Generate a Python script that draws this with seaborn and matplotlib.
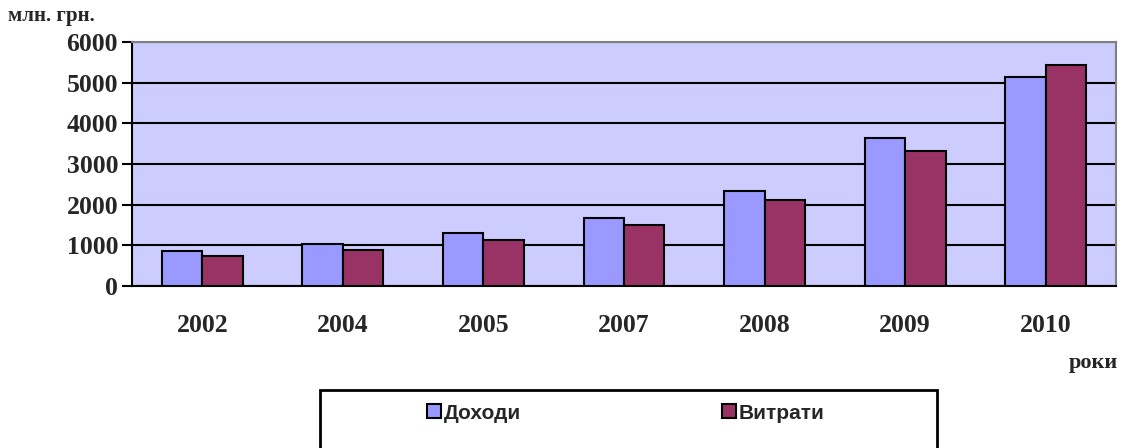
import pandas as pd
import numpy as np
import seaborn as sns
import matplotlib
matplotlib.use('Agg')
import matplotlib.pyplot as plt
from matplotlib.patches import Rectangle

years = ['2002', '2004', '2005', '2007', '2008', '2009', '2010']
income = [870, 1035, 1300, 1670, 2330, 3630, 5150]
expenses = [740, 885, 1120, 1500, 2120, 3320, 5440]
series_names = ['Доходи', 'Витрати']
colors = ['#9999FF', '#993366']

df = pd.DataFrame({
    'year': years * 2,
    'value': income + expenses,
    'series': [series_names[0]] * len(years) + [series_names[1]] * len(years),
})

sns.set_style('white')
serif = ['Liberation Serif', 'DejaVu Serif']
sans = ['Liberation Sans', 'DejaVu Sans']

fig = plt.figure(figsize=(11.3, 4.48), dpi=100)
ax = fig.add_axes([132 / 1130, 1 - 286 / 448, (1116 - 132) / 1130, (286 - 42) / 448])
ax.set_facecolor('#CCCCFF')

sns.barplot(data=df, x='year', y='value', hue='series', palette=colors,
            width=0.575, gap=0, edgecolor='black', linewidth=1.5,
            saturation=1, ax=ax, zorder=3)

ax.set_xlim(-0.5, len(years) - 0.5)
ax.set_ylim(0, 6000)
ax.set_yticks(range(0, 6001, 1000))
ax.yaxis.grid(True, color='black', linewidth=1.5, zorder=0)
ax.set_axisbelow(True)

# ticks between groups, labels in the middle
ax.set_xticks(np.arange(-0.5, len(years)), minor=True)
ax.tick_params(axis='x', which='major', length=0, pad=20)
ax.tick_params(axis='x', which='minor', length=8, width=1.5, color='black', direction='out')
ax.tick_params(axis='y', length=7, width=1.5, color='black', direction='out', pad=3, left=True)
for lab in ax.get_xticklabels() + ax.get_yticklabels():
    lab.set_family(serif)
    lab.set_fontweight('bold')
    lab.set_fontsize(18.5)

for side in ['left', 'bottom']:
    ax.spines[side].set_color('black')
    ax.spines[side].set_linewidth(1.5)
for side in ['top', 'right']:
    ax.spines[side].set_color('#808080')
    ax.spines[side].set_linewidth(1.5)

ax.set_xlabel('')
ax.set_ylabel('')

fig.text(8 / 1130, 1 - 16 / 448, 'млн. грн.', family=serif, fontweight='bold',
         fontsize=15, va='center', ha='left')
fig.text(1118 / 1130, 1 - 363 / 448, 'роки', family=serif, fontweight='bold',
         fontsize=16, va='center', ha='right')

handles, labels = ax.get_legend_handles_labels()
ax.get_legend().remove()
fig.legend(handles, labels, loc='center left',
           bbox_to_anchor=(427 / 1130, 1 - 413 / 448), ncol=2, frameon=False,
           prop={'family': sans, 'weight': 'bold', 'size': 15},
           handlelength=0.68, handleheight=0.68, handletextpad=0.15,
           columnspacing=9.6, borderpad=0, borderaxespad=0)

fig.patches.append(Rectangle((320 / 1130, -0.1), (937 - 320) / 1130, (448 - 390) / 448 + 0.1,
                             transform=fig.transFigure, fill=False,
                             edgecolor='black', linewidth=2))

fig.savefig('out.png', dpi=100)
